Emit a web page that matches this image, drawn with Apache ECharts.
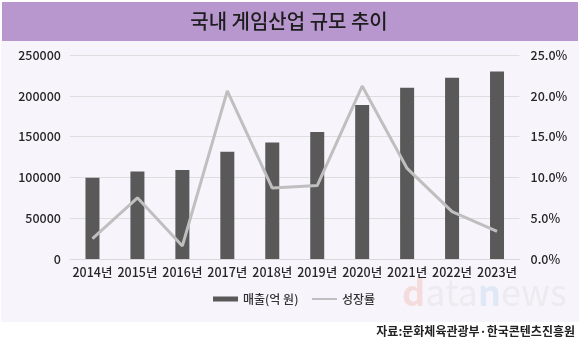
<!DOCTYPE html>
<html><head><meta charset="utf-8">
<script src="https://cdn.jsdelivr.net/npm/echarts@6/dist/echarts.min.js"></script>
<style>html,body{margin:0;padding:0;background:#fff}#c{width:580px;height:347px}</style>
</head><body><div id="c"></div>
<script>
const categories = ['2014년','2015년','2016년','2017년','2018년','2019년','2020년','2021년','2022년','2023년'];
const sales = [99706, 107223, 108945, 131423, 142902, 155750, 188855, 209913, 222149, 229642];
const growth = [0.025, 0.075, 0.016, 0.206, 0.087, 0.090, 0.212, 0.111, 0.058, 0.034];
const leftTicks = [0, 250000, 50000];
const rightTicks = [0, 0.25, 0.05];
const titleText = '국내 게임산업 규모 추이';
const sourceText = '자료:문화체육관광부·한국콘텐츠진흥원';
const seriesNames = ['매출(억 원)', '성장률'];

const FONT = '"Noto Sans CJK KR", "Noto Sans", sans-serif';
const chart = echarts.init(document.getElementById('c'), null, {renderer: 'canvas'});
const legendText = {fontFamily: FONT, fontSize: 12, color: '#333', fontWeight: 500};
chart.setOption({
  animation: false,
  backgroundColor: '#ffffff',
  textStyle: {fontFamily: FONT},
  graphic: [
    {type: 'rect', shape: {x: 1, y: 41, width: 578, height: 281}, style: {fill: '#f8f4fc'}, z: -10, silent: true},
    {type: 'rect', shape: {x: 2, y: 2, width: 576, height: 39}, style: {fill: '#b897cf'}, z: -9, silent: true},
    {type: 'text', x: 289, y: 21, style: {text: titleText, font: '500 20px ' + FONT, fill: '#1e1e1e', textAlign: 'center', textVerticalAlign: 'middle'}, z: 5},
    {type: 'text', x: 402, y: 292, style: {
      rich: {d: {fill: '#f5dcdc', font: 'bold 36px ' + FONT}, a: {fill: '#ecebf0', font: '36px ' + FONT}, n: {fill: '#e0e7f5', font: 'bold 36px ' + FONT}},
      text: '{d|d}{a|ata}{n|n}{a|ews}', textVerticalAlign: 'middle'}, z: -5, silent: true},
    {type: 'text', x: 575, y: 331, style: {text: sourceText, font: 'bold 12px ' + FONT, fill: '#222', textAlign: 'right', textVerticalAlign: 'middle'}, z: 5}
  ],
  legend: [
    {left: 208, top: 288, textStyle: legendText, data: [{name: seriesNames[0], icon: 'rect'}], itemWidth: 25, itemHeight: 5},
    {left: 307, top: 288, textStyle: legendText, data: [{name: seriesNames[1], icon: 'rect'}], itemWidth: 25, itemHeight: 2}
  ],
  grid: {left: 70, right: 60.5, top: 55, bottom: 88},
  xAxis: {
    type: 'category', data: categories,
    axisLine: {lineStyle: {color: '#d9d9d9'}},
    axisTick: {show: false},
    axisLabel: {color: '#262626', fontSize: 12.5, fontWeight: 500, margin: 7, interval: 0}
  },
  yAxis: [
    {type: 'value', min: leftTicks[0], max: leftTicks[1], interval: leftTicks[2],
     axisLabel: {color: '#262626', fontSize: 12.5, fontWeight: 500, margin: 9, formatter: v => String(v)},
     splitLine: {lineStyle: {color: '#dedede', width: 1}}, axisLine: {show: false}, axisTick: {show: false}},
    {type: 'value', min: rightTicks[0], max: rightTicks[1], interval: rightTicks[2],
     axisLabel: {color: '#262626', fontSize: 12.5, fontWeight: 500, margin: 11, formatter: v => (v*100).toFixed(1) + '%'},
     splitLine: {show: false}, axisLine: {show: false}, axisTick: {show: false}}
  ],
  series: [
    {name: seriesNames[0], type: 'bar', data: sales, barWidth: 14, itemStyle: {color: '#595959'}, yAxisIndex: 0, z: 2},
    {name: seriesNames[1], type: 'line', data: growth, yAxisIndex: 1, symbol: 'none', lineStyle: {color: '#bfbfbf', width: 3}, itemStyle: {color: '#bfbfbf'}, z: 3}
  ]
});
</script></body></html>
